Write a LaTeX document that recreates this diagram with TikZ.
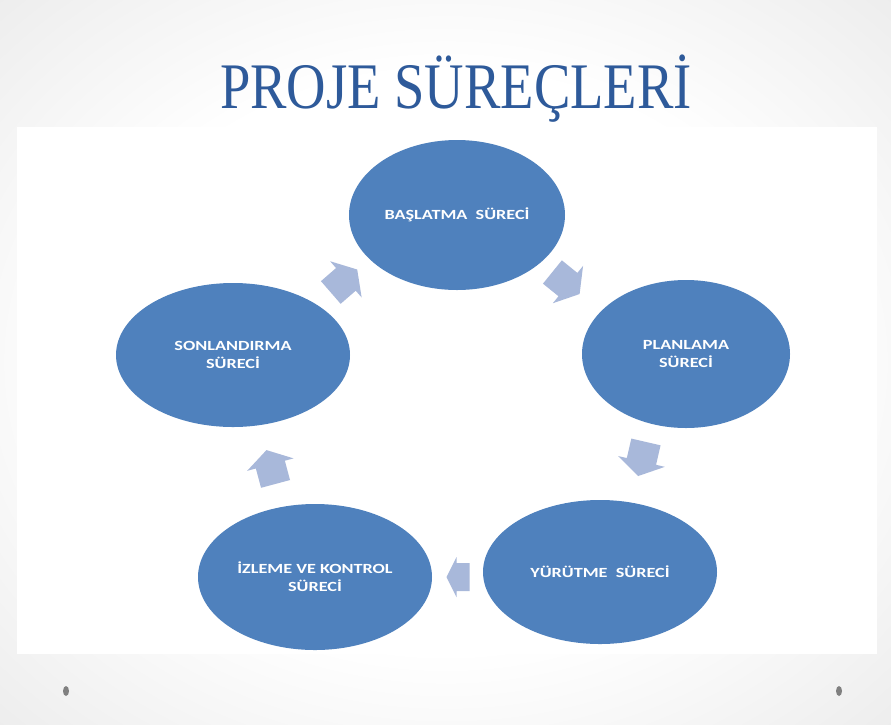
\documentclass[tikz,border=0pt]{standalone}
\usepackage{fontspec}
\setmainfont{Liberation Serif}
\newfontfamily\boxfont{Carlito}
\usetikzlibrary{shapes.geometric}
\definecolor{nodeblue}{HTML}{4F81BD}
\definecolor{arrowblue}{HTML}{A8B8DA}
\definecolor{titleblue}{HTML}{2E5A9A}
\definecolor{bgedge}{HTML}{CDCDCD}
\definecolor{bgmid}{HTML}{E8E8E8}
\pgfdeclareradialshading{slidebg}{\pgfpoint{0bp}{0bp}}{%
  color(0bp)=(white); color(20bp)=(white); color(40bp)=(bgmid);
  color(56bp)=(bgedge); color(72bp)=(bgedge)}
\newcommand\wideline[1]{\scalebox{1.3}[1]{#1}}
% center x, center y, angle, length, head length, head width, shaft width
\newcommand\cycarrow[7]{%
  \begin{scope}[shift={(#1,#2)},rotate=#3]
    \fill[arrowfill]
      ({-#4/2},{-#7/2}) -- ({#4/2-#5},{-#7/2}) -- ({#4/2-#5},{-#6/2})
      -- ({#4/2},0) -- ({#4/2-#5},{#6/2}) -- ({#4/2-#5},{#7/2})
      -- ({-#4/2},{#7/2}) -- cycle;
  \end{scope}}
\tikzset{
  proc/.style={ellipse, fill=nodeblue, draw=none, inner sep=0pt, outer sep=0pt,
    text=white, align=center, font=\boxfont\bfseries\fontsize{14}{18}\selectfont},
  arrowfill/.style={fill=arrowblue},
  titletext/.style={anchor=base, font=\fontsize{65}{70}\selectfont}
}
\begin{document}
\begin{tikzpicture}[x=1pt,y=-1pt]
  \useasboundingbox (0,0) rectangle (891,724);
  % background
  \shade[shading=slidebg] (0,0) rectangle (891,724);
  % title
  \node[titletext, text=titleblue] (title) at (456,108)
    {\scalebox{0.84}[1]{PROJE SÜREÇLERİ}};
  % white panel
  \fill[white] (17,127) rectangle (877,654);
  % process ellipses
  \node[proc, minimum width=216pt, minimum height=150pt] (b) at (457,215)
    {\wideline{BAŞLATMA\ \ SÜRECİ}};
  \node[proc, minimum width=208pt, minimum height=148pt] (p) at (686,354)
    {\wideline{PLANLAMA}\\\wideline{SÜRECİ}};
  \node[proc, minimum width=234pt, minimum height=144pt] (y) at (600,572)
    {\wideline{YÜRÜTME\ \ SÜRECİ}};
  \node[proc, minimum width=234pt, minimum height=146pt] (i) at (315,577)
    {\wideline{İZLEME VE KONTROL}\\\wideline{SÜRECİ}};
  \node[proc, minimum width=234pt, minimum height=144pt] (s) at (233,355)
    {\wideline{SONLANDIRMA}\\\wideline{SÜRECİ}};
  % cycle arrows
  \cycarrow{344}{281}{41}{35}{15}{48}{30}
  \cycarrow{566}{283}{-39}{35}{15}{48}{30}
  \cycarrow{642}{459}{-103}{35}{15}{48}{30}
  \cycarrow{458}{577}{180}{23}{10}{40}{28}
  \cycarrow{271}{467}{105}{35}{15}{48}{30}
  % slide dots
  \fill[gray] (66,691) ellipse [x radius=3pt, y radius=5pt];
  \fill[gray] (839,691) ellipse [x radius=3pt, y radius=5pt];
\end{tikzpicture}
\end{document}
